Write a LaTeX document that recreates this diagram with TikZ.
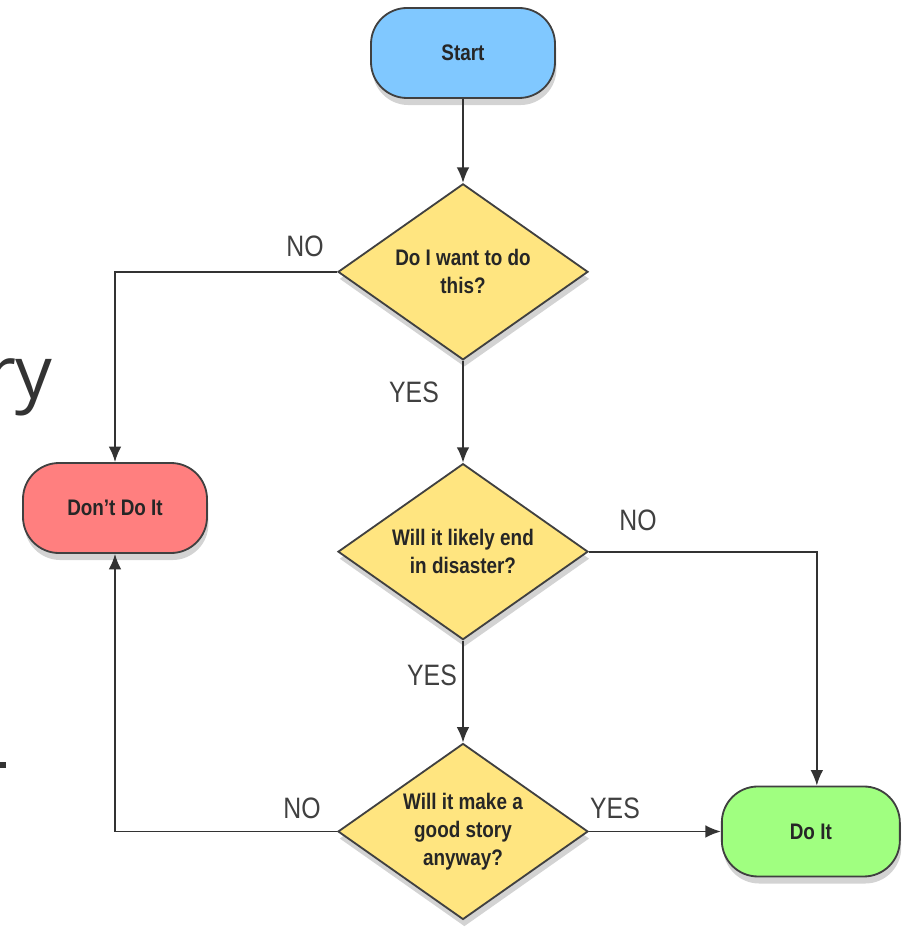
\documentclass[tikz,border=0pt]{standalone}
\usepackage{fontspec}
\setmainfont{Liberation Sans}[FakeStretch=0.84]
\newfontfamily\sidefont{Open Sans}
\usetikzlibrary{shapes.geometric, arrows.meta, positioning, shadows}

\definecolor{startblue}{HTML}{80C8FF}
\definecolor{stopred}{HTML}{FF7F7F}
\definecolor{askyellow}{HTML}{FFE580}
\definecolor{gogreen}{HTML}{A0FF80}
\definecolor{edgegrey}{HTML}{404040}

\tikzstyle{terminal} = [rectangle, rounded corners=0.9cm, minimum width=4.6cm, minimum height=2.25cm, text centered, draw=edgegrey, line width=1.3pt, font=\fontsize{16}{19}\selectfont\bfseries, text=black!85, drop shadow={shadow xshift=1pt, shadow yshift=-5pt, opacity=0.35}]
\tikzstyle{question} = [diamond, aspect=1.4, minimum width=6.25cm, minimum height=4.4cm, inner sep=0pt, align=center, draw=edgegrey, fill=askyellow, line width=1.3pt, font=\fontsize{16}{20}\selectfont\bfseries, text=black!85, drop shadow={shadow xshift=1pt, shadow yshift=-5pt, opacity=0.35}]
\tikzstyle{signal} = [draw=black!80, line width=1.3pt, -{Latex[length=11pt, width=9pt]}]
\tikzstyle{answer} = [font=\fontsize{21}{24}\selectfont, text=black!75]

\begin{document}
\begin{tikzpicture}
\useasboundingbox (0,0) rectangle (22.625,-23.475);

% Leftover text at the left edge
\node (cutword) [anchor=base east, inner sep=0pt, font=\sidefont\fontsize{52}{60}\selectfont, text=black!80] at (1.325,-9.95) {ry};
\fill[black!80] (0,-19.05) rectangle (0.15,-19.2);

% Terminals and questions
\node (start) [terminal, fill=startblue] at (11.575,-1.325) {Start};
\node (want) [question, below=2.1cm of start] {Do I want to do\\this?};
\node (disaster) [question, below=2.55cm of want] {Will it likely end\\in disaster?};
\node (story) [question, below=2.55cm of disaster] {Will it make a\\good story\\anyway?};
\node (dont) [terminal, fill=stopred] at (2.875,-12.7) {Don't Do It};
\node (doit) [terminal, fill=gogreen, minimum width=4.45cm, right=3.3cm of story] {Do It};
\coordinate (doittop) at ([xshift=0.15cm]doit.north);

% Connections
\draw [signal] (start) -- (want);
\draw [signal] (want.west) -| (dont.north);
\draw [signal] (want) -- (disaster);
\draw [signal] (disaster.east) -| (doittop);
\draw [signal] (disaster) -- (story);
\draw [signal] (story.west) -| (dont.south);
\draw [signal] (story) -- (doit);

% Answers
\node (no1) [answer] at (7.625,-6.15) {NO};
\node (yes1) [answer] at (10.35,-9.8) {YES};
\node (no2) [answer] at (15.95,-13.0) {NO};
\node (yes2) [answer] at (10.8,-16.875) {YES};
\node (no3) [answer] at (7.55,-20.2) {NO};
\node (yes3) [answer] at (15.375,-20.2) {YES};

\end{tikzpicture}
\end{document}
